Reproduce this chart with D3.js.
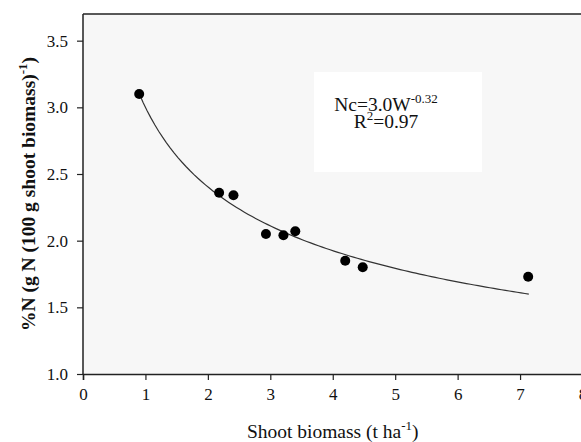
<!DOCTYPE html>
<html>
<head>
<meta charset="utf-8">
<script src="https://cdn.jsdelivr.net/npm/d3@7"></script>
<style>
  body { margin: 0; background: #fff; }
  svg { display: block; font-family: "Liberation Serif", "Times New Roman", serif; }
</style>
</head>
<body>
<div id="chart"></div>
<script>
// -------------------- Data --------------------
const biomass = [0.90, 2.18, 2.41, 2.93, 3.21, 3.40, 4.20, 4.48, 7.13];
const nitrogen = [3.10, 2.36, 2.34, 2.05, 2.04, 2.07, 1.85, 1.80, 1.73];
const xTicks = [0, 1, 2, 3, 4, 5, 6, 7, 8];
const yTicks = [1.0, 1.5, 2.0, 2.5, 3.0, 3.5];
// fitted dilution curve as printed on the chart: Nc = a * W^b
const fitA = 3.0, fitB = -0.32;
const fitRange = [0.90, 7.14];

// -------------------- SVG --------------------
const width = 581, height = 442;
const margin = { top: 14, left: 83, bottom: 68 };
const plotRight = 582.5;

const svg = d3.select("#chart").append("svg")
  .attr("width", width)
  .attr("height", height);

const x = d3.scaleLinear().domain([0, 8]).range([margin.left, plotRight]);
const y = d3.scaleLinear().domain([1, 3.7]).range([height - margin.bottom, margin.top]);

// plot background
svg.append("rect")
  .attr("x", margin.left).attr("y", margin.top)
  .attr("width", plotRight - margin.left + 5)
  .attr("height", y(1) - margin.top)
  .attr("fill", "#f7f7f7");

// white box behind equation
svg.append("rect")
  .attr("x", 314).attr("y", 72)
  .attr("width", 168).attr("height", 100)
  .attr("fill", "#ffffff");

// top frame
svg.append("line")
  .attr("x1", margin.left).attr("x2", width + 5)
  .attr("y1", margin.top).attr("y2", margin.top)
  .attr("stroke", "#222").attr("stroke-width", 1.5);

// -------------------- Axes --------------------
const xAxis = svg.append("g")
  .attr("transform", `translate(0,${y(1)})`)
  .call(d3.axisBottom(x).tickValues(xTicks).tickFormat(d3.format("d")).tickSizeOuter(0).tickSize(6).tickPadding(8));

const yAxis = svg.append("g")
  .attr("transform", `translate(${margin.left},0)`)
  .call(d3.axisLeft(y).tickValues(yTicks).tickFormat(d3.format(".1f")).tickSizeOuter(0).tickSize(6).tickPadding(9));

[xAxis, yAxis].forEach(g => {
  g.select(".domain").attr("stroke", "#222").attr("stroke-width", 1.5);
  g.selectAll(".tick line").attr("stroke", "#222").attr("stroke-width", 1.2);
  g.selectAll("text")
    .attr("fill", "#111")
    .style("font-family", "'Liberation Serif', serif")
    .style("font-size", "17px");
});
yAxis.select(".domain").attr("d", `M-0,${y(1)}V${margin.top}`);

// -------------------- Fit curve --------------------
const curveX = d3.range(fitRange[0], fitRange[1] + 1e-9, (fitRange[1] - fitRange[0]) / 100);
svg.append("path")
  .datum(curveX)
  .attr("fill", "none")
  .attr("stroke", "#333")
  .attr("stroke-width", 1.2)
  .attr("d", d3.line().x(d => x(d)).y(d => y(fitA * Math.pow(d, fitB))));

// -------------------- Points --------------------
svg.append("g")
  .selectAll("circle")
  .data(biomass)
  .join("circle")
  .attr("cx", d => x(d))
  .attr("cy", (d, i) => y(nitrogen[i]))
  .attr("r", 5)
  .attr("fill", "#000");

// -------------------- Equation --------------------
const eq = svg.append("text")
  .attr("x", 386).attr("y", 111)
  .attr("text-anchor", "middle")
  .style("font-size", "19.5px")
  .attr("fill", "#111");
eq.append("tspan").text("Nc=3.0W");
eq.append("tspan").attr("dy", -8).style("font-size", "13px").text("-0.32");

const r2 = svg.append("text")
  .attr("x", 386).attr("y", 128)
  .attr("text-anchor", "middle")
  .style("font-size", "19.5px")
  .attr("fill", "#111");
r2.append("tspan").text("R");
r2.append("tspan").attr("dy", -8).style("font-size", "13px").text("2");
r2.append("tspan").attr("dy", 8).text("=0.97");

// -------------------- Axis titles --------------------
const xt = svg.append("text")
  .attr("x", (margin.left + plotRight) / 2).attr("y", 438)
  .attr("text-anchor", "middle")
  .style("font-size", "19.5px")
  .attr("fill", "#111");
xt.append("tspan").text("Shoot biomass (t ha");
xt.append("tspan").attr("dy", -8).style("font-size", "13px").text("-1");
xt.append("tspan").attr("dy", 8).text(")");

const yt = svg.append("text")
  .attr("transform", `translate(35,${(margin.top + y(1)) / 2}) rotate(-90)`)
  .attr("text-anchor", "middle")
  .style("font-size", "19.5px")
  .style("font-weight", "bold")
  .attr("fill", "#111");
yt.append("tspan").text("%N (g N (100 g shoot biomass)");
yt.append("tspan").attr("dy", -8).style("font-size", "13px").text("-1");
yt.append("tspan").attr("dy", 8).text(")");
</script>
</body>
</html>
